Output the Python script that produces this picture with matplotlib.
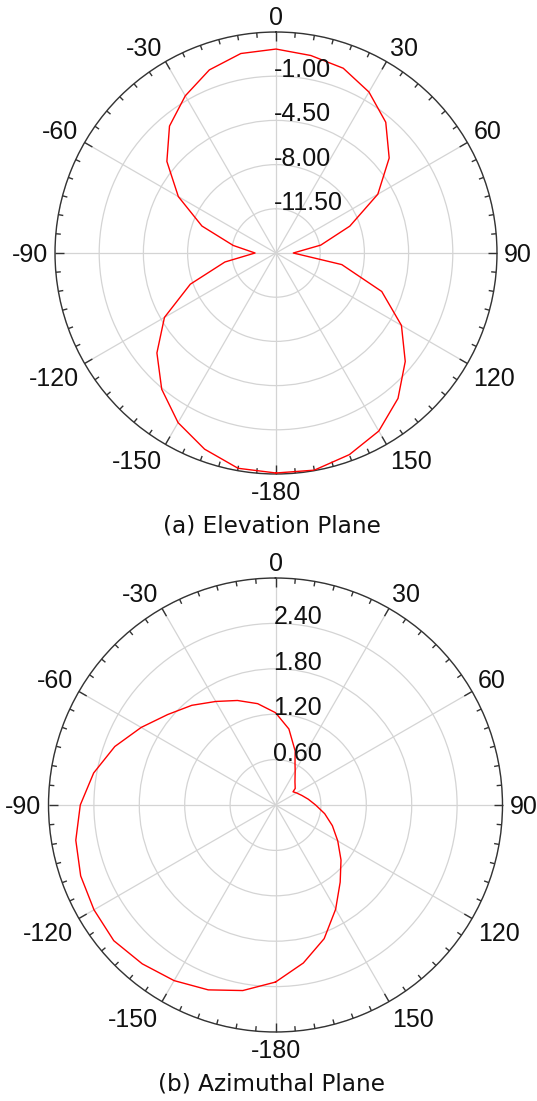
import numpy as np
import matplotlib
matplotlib.use("Agg")
import matplotlib.pyplot as plt

# ---------------- data ----------------
elev_angles = [-180, -170, -160, -150, -140, -130, -120, -110, -100, -90,
               -80, -70, -60, -50, -40, -30, -20, -10, 0,
               10, 20, 30, 40, 50, 60, 70, 80, 90,
               100, 110, 120, 130, 140, 150, 160, 170, 180]
elev_gain = [2.42, 2.31, 1.53, 0.51, -0.92, -2.69, -4.80, -7.78, -10.89, -13.34,
             -11.56, -8.76, -6.07, -3.72, -1.88, -0.63, 0.43, 1.04, 1.15,
             0.88, 0.57, -0.28, -1.48, -3.30, -5.69, -8.78, -11.40, -13.63,
             -9.71, -6.09, -3.53, -1.64, 0.03, 1.28, 1.99, 2.46, 2.42]
elev_rticks = [-11.5, -8.0, -4.5, -1.0]
elev_rticklabels = ["-11.50", "-8.00", "-4.50", "-1.00"]
elev_rlim = (-15.0, 2.5)

azim_angles = [-180, -170, -160, -150, -140, -130, -120, -110, -100, -90,
               -80, -70, -60, -50, -40, -30, -20, -10, 0,
               10, 20, 25, 30, 40, 50, 53, 60, 70, 80, 90,
               100, 110, 120, 130, 140, 150, 160, 170, 180]
azim_gain = [2.34, 2.49, 2.60, 2.68, 2.74, 2.79, 2.77, 2.74, 2.68, 2.58,
             2.44, 2.26, 2.05, 1.86, 1.72, 1.58, 1.47, 1.36, 1.22,
             1.02, 0.76, 0.61, 0.52, 0.40, 0.34, 0.29, 0.32, 0.37, 0.44, 0.53,
             0.66, 0.80, 0.95, 1.13, 1.33, 1.59, 1.88, 2.12, 2.34]
azim_rticks = [0.6, 1.2, 1.8, 2.4]
azim_rticklabels = ["0.60", "1.20", "1.80", "2.40"]
azim_rlim = (0.0, 3.0)

theta_tick_deg = [0, 30, 60, 90, 120, 150, 180, 210, 240, 270, 300, 330]
theta_tick_labels = ["0", "30", "60", "90", "120", "150", "-180",
                     "-150", "-120", "-90", "-60", "-30"]
theta_minor_step = 5

captions = ["(a) Elevation Plane", "(b) Azimuthal Plane"]

# ---------------- figure ----------------
W, H = 537, 1101
fig = plt.figure(figsize=(W / 100, H / 100), dpi=100)
fig.patch.set_facecolor("white")

tick_font = "Liberation Sans"
grid_col = "#d4d4d4"
spine_col = "#333333"
FS = 18


def setup(ax, angles, gain, rlim, rticks, rlabels, radius_px, pad_px=7):
    ax.set_theta_zero_location("N")
    ax.set_theta_direction(-1)
    ax.set_ylim(*rlim)
    ax.set_yticks(rticks + [rlim[1]])
    ax.set_yticklabels([])
    ax.set_xticks(np.deg2rad(theta_tick_deg))
    ax.set_xticklabels([])
    ax.tick_params(axis="x", which="major", length=0)
    ax.tick_params(axis="y", length=0)
    ax.grid(True, color=grid_col, linewidth=0.9)
    ax.spines["polar"].set_color(spine_col)
    ax.spines["polar"].set_linewidth(1.0)
    span = rlim[1] - rlim[0]
    per_px = span / radius_px
    # inward tick marks on the outer circle
    for d in np.arange(0, 360, theta_minor_step):
        ln = 9 if d % 30 == 0 else 5
        t = np.deg2rad(d)
        ax.plot([t, t], [rlim[1] - ln * per_px, rlim[1]], color=spine_col,
                linewidth=1.0, solid_capstyle="butt", clip_on=False, zorder=3)
    # angle labels, anchored by their nearest corner/edge
    for d, lab in zip(theta_tick_deg, theta_tick_labels):
        t = np.deg2rad(d)
        s, c = np.sin(t), np.cos(t)
        ha = "left" if s > 0.1 else ("right" if s < -0.1 else "center")
        va = "baseline" if c > 0.1 else ("top" if c < -0.1 else "center_baseline")
        ax.text(t, rlim[1] + pad_px * per_px, lab, ha=ha, va=va,
                fontfamily=tick_font, fontsize=FS, color="#111111",
                clip_on=False)
    ax.plot(np.deg2rad(angles), gain, color="#ff0000", linewidth=1.0, zorder=4)
    off = matplotlib.transforms.ScaledTranslation(-2 / 100, -1 / 100,
                                                  fig.dpi_scale_trans)
    for r, lab in zip(rticks, rlabels):
        ax.text(0, r, lab, ha="left", va="baseline", fontfamily=tick_font,
                fontsize=FS, color="#111111", transform=ax.transData + off,
                zorder=5)


ax1 = fig.add_axes([55 / W, (H - 474) / H, 442 / W, 442 / H], projection="polar")
setup(ax1, elev_angles, elev_gain, elev_rlim, elev_rticks, elev_rticklabels, 221)

ax2 = fig.add_axes([48.5 / W, (H - 1032) / H, 454 / W, 454 / H], projection="polar")
setup(ax2, azim_angles, azim_gain, azim_rlim, azim_rticks, azim_rticklabels, 227)

fig.text(272 / W, 1 - 526 / H, captions[0], ha="center", va="center",
         fontfamily="DejaVu Sans", fontsize=16.7, color="#111111")
fig.text(272 / W, 1 - 1084 / H, captions[1], ha="center", va="center",
         fontfamily="DejaVu Sans", fontsize=16.7, color="#111111")

fig.savefig("out.png", dpi=100, facecolor="white")
